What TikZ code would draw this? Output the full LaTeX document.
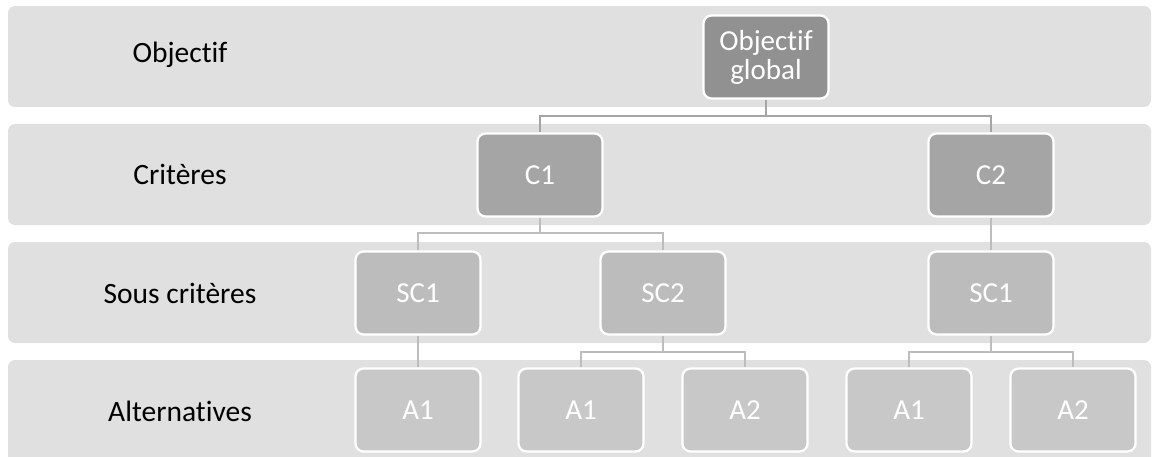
\documentclass[tikz,border=0pt]{standalone}
\usepackage{fontspec}
\setmainfont{Carlito}[Ligatures={NoCommon,NoContextual}]
\definecolor{bandgray}{HTML}{E0E0E0}
\definecolor{lvla}{HTML}{919191}
\definecolor{lvlb}{HTML}{A5A5A5}
\definecolor{lvlc}{HTML}{BCBCBC}
\definecolor{lvld}{HTML}{C8C8C8}
\definecolor{linea}{HTML}{A5A5A5}
\definecolor{lineb}{HTML}{BDBDBD}
\begin{document}
\begin{tikzpicture}[x=1pt,y=-1pt,
  band/.style={fill=bandgray, draw=none, rounded corners=7pt},
  lvltext/.style={font=\fontsize{29.5}{34}\selectfont, text=black, inner sep=0pt},
  hbox/.style={draw=white, line width=2.3pt, rounded corners=8pt, minimum width=125pt, minimum height=83pt, text=white, font=\fontsize{29}{29}\selectfont, inner sep=0pt, align=center},
  boxa/.style={hbox, fill=lvla},
  boxb/.style={hbox, fill=lvlb},
  boxc/.style={hbox, fill=lvlc},
  boxd/.style={hbox, fill=lvld},
  conna/.style={draw=linea, line width=2.7pt},
  connb/.style={draw=lineb, line width=2.7pt}]
\useasboundingbox (0,0) rectangle (1155,457);
\begin{scope}
\clip (0,0) rectangle (1155,457);
\fill[band] (8,6) rectangle (1151,107);
\fill[band] (8,124) rectangle (1151,225);
\fill[band] (8,242) rectangle (1151,343);
\fill[band] (8,360) rectangle (1151,468);
\end{scope}
\node[lvltext] (l1) at (180,55) {Objectif};
\node[lvltext] (l2) at (180,174) {Critères};
\node[lvltext] (l3) at (180,293) {Sous critères};
\node[lvltext] (l4) at (180,411) {Alternatives};

\coordinate (j1) at (766,116);
\coordinate (j2) at (540,233);
\coordinate (j3) at (663,352);
\coordinate (j4) at (991,352);

\node[boxa] (og) at (766,57) {Objectif\\global};
\node[boxb] (c1) at (540,175) {C1};
\node[boxb] (c2) at (991,175) {C2};
\node[boxc] (sc1) at (418,293) {SC1};
\node[boxc] (sc2) at (663,293) {SC2};
\node[boxc] (sc3) at (991,293) {SC1};
\node[boxd] (a1) at (418,410) {A1};
\node[boxd] (a2) at (581,410) {A1};
\node[boxd] (a3) at (745,410) {A2};
\node[boxd] (a4) at (909,410) {A1};
\node[boxd] (a5) at (1073,410) {A2};

\draw[conna] (og.south) -- (j1);
\draw[conna] (c1.north) |- (j1) -| (c2.north);
\draw[connb] (c1.south) -- (j2);
\draw[connb] (sc1.north) |- (j2) -| (sc2.north);
\draw[connb] (c2.south) -- (sc3.north);
\draw[connb] (sc1.south) -- (a1.north);
\draw[connb] (sc2.south) -- (j3);
\draw[connb] (a2.north) |- (j3) -| (a3.north);
\draw[connb] (sc3.south) -- (j4);
\draw[connb] (a4.north) |- (j4) -| (a5.north);
\end{tikzpicture}
\end{document}
